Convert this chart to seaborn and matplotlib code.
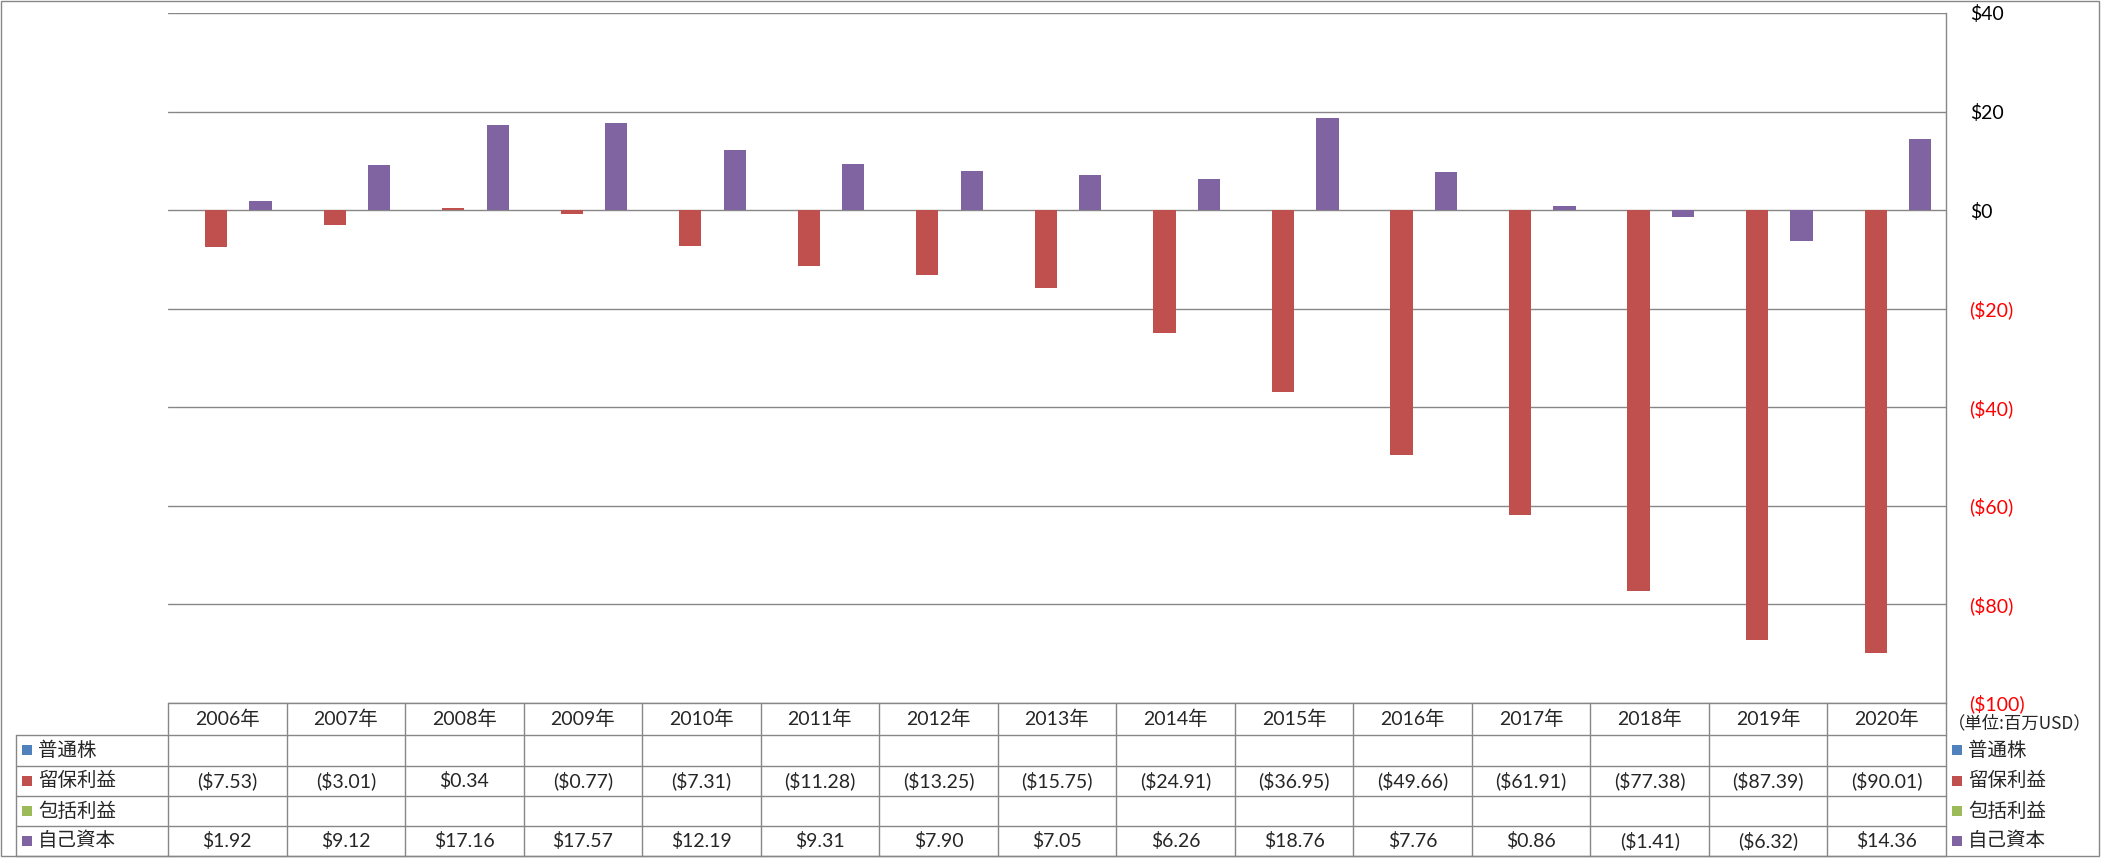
import numpy as np
import pandas as pd
import matplotlib
matplotlib.use("Agg")
import matplotlib.pyplot as plt
from matplotlib.lines import Line2D
from matplotlib.patches import Rectangle
import seaborn as sns

# ---------------- data ----------------
years = ["2006年", "2007年", "2008年", "2009年", "2010年", "2011年", "2012年", "2013年",
         "2014年", "2015年", "2016年", "2017年", "2018年", "2019年", "2020年"]
series_names = ["普通株", "留保利益", "包括利益", "自己資本"]
common_stock = [None] * 15
retained_earnings = [-7.53, -3.01, 0.34, -0.77, -7.31, -11.28, -13.25, -15.75,
                     -24.91, -36.95, -49.66, -61.91, -77.38, -87.39, -90.01]
comprehensive_income = [None] * 15
equity = [1.92, 9.12, 17.16, 17.57, 12.19, 9.31, 7.90, 7.05,
          6.26, 18.76, 7.76, 0.86, -1.41, -6.32, 14.36]
y_ticks = [40, 20, 0, -20, -40, -60, -80, -100]
unit_label = "（単位:百万USD）"
colors = ["#4F81BD", "#C0504D", "#9BBB59", "#8064A2"]

series_values = [common_stock, retained_earnings, comprehensive_income, equity]

# ---------------- style ----------------
sns.set_theme(style="white")
JP = ["Noto Sans CJK JP", "DejaVu Sans"]
NUM = ["Lato", "Noto Sans CJK JP", "DejaVu Sans"]
plt.rcParams["font.family"] = JP
GRID = "#878787"
FS = 14

W, H = 2101, 858
fig = plt.figure(figsize=(W / 100, H / 100), dpi=100)

def rect_px(x0, y0, x1, y1):
    return [x0 / W, 1 - y1 / H, (x1 - x0) / W, (y1 - y0) / H]

PL, PR, PT, PB = 168, 1946, 13, 702.5
ax = fig.add_axes(rect_px(PL, PT, PR, PB))

rows = []
for name, vals in zip(series_names, series_values):
    for yr, v in zip(years, vals):
        if v is not None:
            rows.append({"year": yr, "series": name, "value": v})
df = pd.DataFrame(rows)

sns.barplot(data=df, x="year", y="value", hue="series", hue_order=series_names,
            order=years, palette=dict(zip(series_names, colors)), width=0.75,
            gap=0, dodge=True, legend=False, ax=ax, saturation=1, errorbar=None,
            linewidth=0)

ax.set_xlim(-0.5, len(years) - 0.5)
ax.set_ylim(-100, 40)
ax.set_yticks(y_ticks)
ax.yaxis.tick_right()
labels = [("$%d" % t) if t >= 0 else ("($%d)" % -t) for t in y_ticks]
ax.set_yticklabels(labels, family=NUM, fontsize=FS)
for lab, t in zip(ax.get_yticklabels(), y_ticks):
    lab.set_color("#FF0000" if t < 0 else "black")
ax.tick_params(axis="y", length=0, pad=17)
ax.set_xticks([])
ax.set_xlabel("")
ax.set_ylabel("")
ax.grid(False)
for t in y_ticks:
    ax.axhline(t, color=GRID, lw=1.0, zorder=0)
for s in ["left", "top", "bottom"]:
    ax.spines[s].set_visible(False)
ax.spines["right"].set_color(GRID)
ax.spines["right"].set_linewidth(1.0)

# ---------------- data table ----------------
tax = fig.add_axes([0, 0, 1, 1], facecolor="none")
tax.set_xlim(0, W)
tax.set_ylim(H, 0)
tax.axis("off")

col_w = (PR - PL) / len(years)
row_edges = [702.5, 735, 765.5, 796, 826, 855.5]
LX = 16

def hline(x0, x1, y):
    tax.add_line(Line2D([x0, x1], [y, y], color=GRID, lw=1.0))

def vline(x, y0, y1):
    tax.add_line(Line2D([x, x], [y0, y1], color=GRID, lw=1.0))

hline(PL, PR, row_edges[0])
for y in row_edges[1:]:
    hline(LX, PR, y)
vline(LX, row_edges[1], row_edges[-1])
for i in range(len(years) + 1):
    vline(PL + i * col_w, row_edges[0], row_edges[-1])

def fmt(v):
    if v is None:
        return ""
    return "$%.2f" % v if v >= 0 else "($%.2f)" % -v

for i, yr in enumerate(years):
    cx = PL + (i + 0.5) * col_w
    tax.text(cx, (row_edges[0] + row_edges[1]) / 2, yr, ha="center", va="center",
             fontsize=FS, family=NUM)
    for r, vals in enumerate(series_values):
        cy = (row_edges[r + 1] + row_edges[r + 2]) / 2
        tax.text(cx, cy, fmt(vals[i]), ha="center", va="center",
                 fontsize=FS, family=NUM)

for r, (name, c) in enumerate(zip(series_names, colors)):
    cy = (row_edges[r + 1] + row_edges[r + 2]) / 2
    tax.add_patch(Rectangle((22, cy - 5), 10, 10, color=c, lw=0))
    tax.text(38, cy, name, ha="left", va="center", fontsize=FS, family=JP)
    tax.add_patch(Rectangle((1952, cy - 5), 10, 10, color=c, lw=0))
    tax.text(1968, cy, name, ha="left", va="center", fontsize=FS, family=JP)

tax.text(2020, 723, unit_label, ha="center", va="center", fontsize=12.5, family=JP)

# outer border
tax.add_patch(Rectangle((1, 1), W - 3, H - 3, fill=False, edgecolor=GRID, lw=1.0))

fig.savefig("out.png", dpi=100)
